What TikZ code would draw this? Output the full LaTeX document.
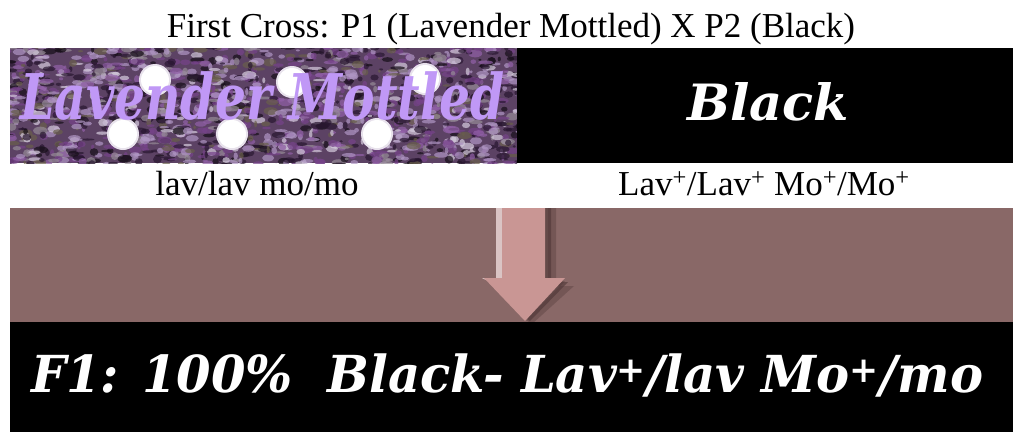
\documentclass[tikz,border=0pt]{standalone}
\usepackage{fontspec}
\setmainfont{Liberation Serif}
\newfontfamily\slabfont{DejaVu Serif}

\definecolor{band}{RGB}{137,104,103}
\definecolor{arrowpink}{RGB}{201,150,148}
\definecolor{arrowshade}{RGB}{78,54,54}
\definecolor{arrowlight}{RGB}{218,196,196}
\definecolor{lavtext}{RGB}{192,152,246}
\definecolor{mottbase}{RGB}{92,66,100}
\definecolor{mottA}{RGB}{40,22,48}
\definecolor{mottB}{RGB}{118,66,138}
\definecolor{mottC}{RGB}{176,150,196}
\definecolor{mottD}{RGB}{214,204,222}
\definecolor{mottE}{RGB}{146,96,168}
\definecolor{mottF}{RGB}{105,95,75}
\definecolor{mottG}{RGB}{22,14,24}
\definecolor{mottH}{RGB}{150,140,150}
\definecolor{spotedge}{RGB}{232,226,236}

% bold italic slab text, stretched to a given width
\newcommand{\slabtext}[3]{\resizebox{#1}{\height}{\fontsize{#2}{#2}\selectfont\slabfont\bfseries\itshape #3}}

\tikzset{
  caption/.style={anchor=base, font=\fontsize{35}{35}\selectfont, text=black, inner sep=0pt},
  bigtext/.style={anchor=base west, inner sep=0pt}
}

\begin{document}
\begin{tikzpicture}[x=1pt,y=-1pt]
\useasboundingbox (0,0) rectangle (1013,432);
\fill[white] (0,0) rectangle (1013,432);

% title
\node[caption] (title) at (511,37) {First Cross: P1 (Lavender Mottled) X P2 (Black)};

% left panel: mottled lavender texture
\begin{scope}
  \clip (10,48) rectangle (517,163);
  \fill[mottbase] (10,48) rectangle (517,163);
  \pgfmathsetseed{12}
  \pgfmathdeclarerandomlist{mott}{{mottA}{mottB}{mottC}{mottD}{mottE}{mottF}{mottG}{mottB}{mottC}{mottH}{mottA}}
  \foreach \i in {1,...,1700}{
    \pgfmathsetmacro\rx{6+515*rnd}
    \pgfmathsetmacro\ry{44+123*rnd}
    \pgfmathsetmacro\rw{1.5+6*rnd}
    \pgfmathsetmacro\rh{1+3*rnd}
    \pgfmathrandomitem\mc{mott}
    \fill[\mc, opacity=0.7] (\rx,\ry) ellipse[x radius=\rw pt, y radius=\rh pt];
  }
  % soft white spots
  \foreach \p in {(155,80),(292,82),(425,79),(123,134),(232,134),(377,134)}{
    \fill[spotedge] \p circle[radius=16pt];
    \fill[white] \p circle[radius=14pt];
  }
\end{scope}
\node[bigtext, text=lavtext] (lavname) at (20,119) {\slabtext{484pt}{63}{Lavender Mottled}};

% right panel: black
\fill[black] (517,48) rectangle (1013,163);
\node[bigtext, text=white] (blkname) at (687,120) {\slabtext{162pt}{50}{Black}};

% genotype captions
\node[caption] (geno1) at (257,195) {lav/lav mo/mo};
\node[caption] (geno2) at (764,195) {Lav\textsuperscript{+}/Lav\textsuperscript{+} Mo\textsuperscript{+}/Mo\textsuperscript{+}};

% brown band with the arrow
\fill[band] (10,208) rectangle (1013,322);
\fill[arrowshade, opacity=0.35] (548,208) -- (556,208) -- (556,286) -- (574,286) -- (532,324) -- (526,320) -- (565,281) -- (548,281) -- cycle;
\fill[arrowshade, opacity=0.6] (545,208) -- (551,208) -- (551,282) -- (568,282) -- (530,321) -- (526,318) -- (562,280) -- (545,280) -- cycle;
\fill[arrowlight] (496,208) -- (502,208) -- (502,280) -- (486,280) -- (482,278) -- (496,278) -- cycle;
\fill[arrowpink] (502,208) -- (545,208) -- (545,278) -- (565,278) -- (525,321) -- (484,278) -- (502,278) -- cycle;

% bottom result band
\fill[black] (10,322) rectangle (1013,432);
\node[bigtext, text=white] (result) at (31,392) {\slabtext{952pt}{51}{F1: 100\%\ \ Black- Lav\textsuperscript{+}/lav Mo\textsuperscript{+}/mo}};
\end{tikzpicture}
\end{document}
